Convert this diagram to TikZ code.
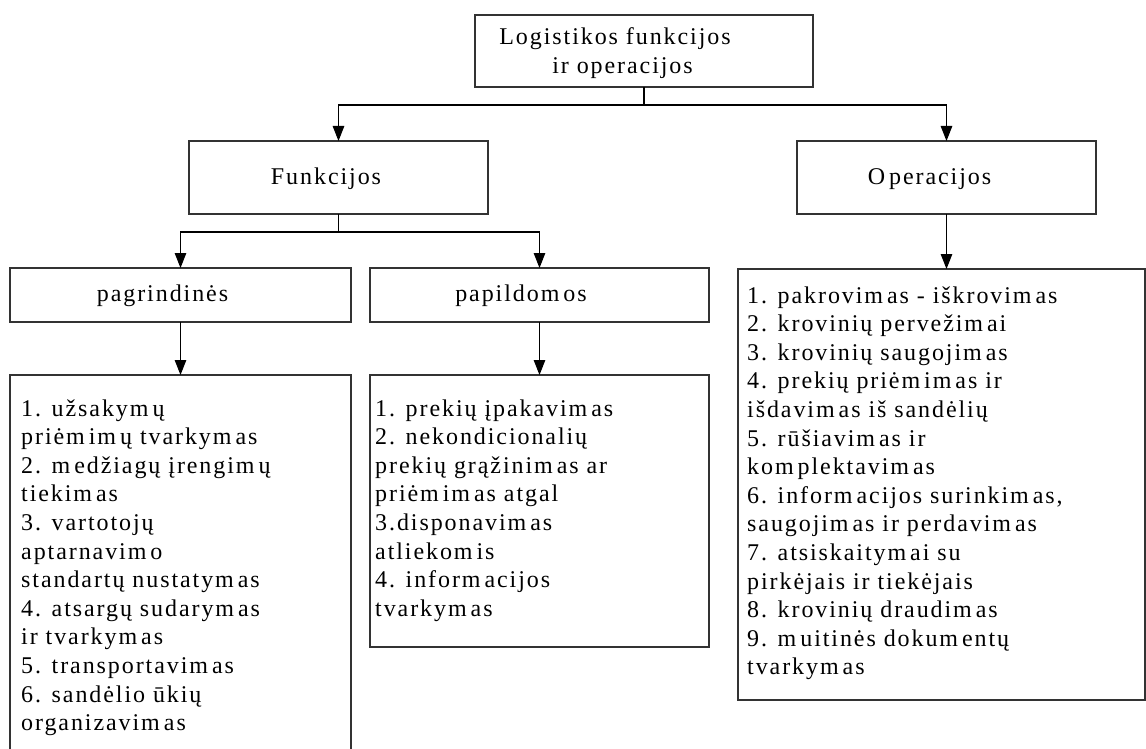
\documentclass[tikz,border=0pt]{standalone}
\usepackage{fontspec}
\setmainfont[LetterSpace=8]{Liberation Serif}
\usetikzlibrary{arrows.meta}
% a little extra room after m and O, as in the printed scheme
\newXeTeXintercharclass\wideclass
\XeTeXcharclass`\m=\wideclass
\XeTeXcharclass`\O=\wideclass
\XeTeXinterchartoks\wideclass 0 = {\kern4pt}
\begin{document}
\XeTeXinterchartokenstate=1
\begin{tikzpicture}[x=1pt,y=-1pt,
  box/.style={draw=black!80, line width=1.2pt, inner sep=0pt, outer sep=0pt, rectangle},
  arr/.style={draw=black, line width=1.2pt, -{Triangle[length=15pt,width=11.5pt]}},
  lbl/.style={inner sep=0pt, anchor=base, font=\fontsize{24}{28.6}\selectfont},
  listtext/.style={inner sep=0pt, anchor=base west, font=\fontsize{24}{28.6}\selectfont}]
\useasboundingbox (0,0) rectangle (1146,749);

% boxes
\node[box, minimum width=338pt, minimum height=72pt] (top) at (644,51) {};
\node[box, minimum width=299pt, minimum height=73pt] (fun) at (338.5,177.5) {};
\node[box, minimum width=299pt, minimum height=73pt] (ope) at (946.5,177.5) {};
\node[box, minimum width=341pt, minimum height=54pt] (pag) at (180.5,295) {};
\node[box, minimum width=339pt, minimum height=54pt] (pap) at (539.5,295) {};
\node[box, minimum width=341pt, minimum height=390pt] (pagD) at (180.5,570) {};
\node[box, minimum width=339pt, minimum height=272pt] (papD) at (539.5,511) {};
\node[box, minimum width=407pt, minimum height=431pt] (opeD) at (941.5,484.5) {};

% captions
\node[lbl] (topT) at (615,45) {\parbox[t]{320pt}{\centering Logistikos funkcijos\\\hspace*{15pt}ir operacijos}};
\node[lbl] (funT) at (326,185) {Funkcijos};
\node[lbl] (opeT) at (929.5,185) {Operacijos};
\node[lbl] (pagT) at (162.5,301) {pagrindinės};
\node[lbl] (papT) at (521,301) {papildomos};

% lists
\node[listtext] (pagL) at (21,416) {\parbox[t]{325pt}{\raggedright
1. užsakymų\\
priėmimų tvarkymas\\
2. medžiagų įrengimų\\
tiekimas\\
3. vartotojų\\
aptarnavimo\\
standartų nustatymas\\
4. atsargų sudarymas\\
ir tvarkymas\\
5. transportavimas\\
6. sandėlio ūkių\\
organizavimas}};
\node[listtext] (papL) at (375,416) {\parbox[t]{330pt}{\raggedright
1. prekių įpakavimas\\
2. nekondicionalių\\
prekių grąžinimas ar\\
priėmimas atgal\\
3.disponavimas\\
atliekomis\\
4. informacijos\\
tvarkymas}};
\node[listtext] (opeL) at (747,303) {\parbox[t]{395pt}{\raggedright
1. pakrovimas - iškrovimas\\
2. krovinių pervežimai\\
3. krovinių saugojimas\\
4. prekių priėmimas ir\\
išdavimas iš sandėlių\\
5. rūšiavimas ir\\
komplektavimas\\
6. informacijos surinkimas,\\
saugojimas ir perdavimas\\
7. atsiskaitymai su\\
pirkėjais ir tiekėjais\\
8. krovinių draudimas\\
9. muitinės dokumentų\\
tvarkymas}};

% connectors
\coordinate (busA) at (644,105);
\coordinate (busB) at (338.5,232);
\draw[arr] (top.south) -- (busA) -| (fun.north);
\draw[arr] (busA) -| (ope.north);
\draw[arr] (fun.south) -- (busB) -| (pag.north);
\draw[arr] (busB) -| (pap.north);
\draw[arr] (pag.south) -- (pagD.north);
\draw[arr] (pap.south) -- (papD.north);
\draw[arr] (ope.south) -- (ope.south |- opeD.north);
\end{tikzpicture}
\end{document}
